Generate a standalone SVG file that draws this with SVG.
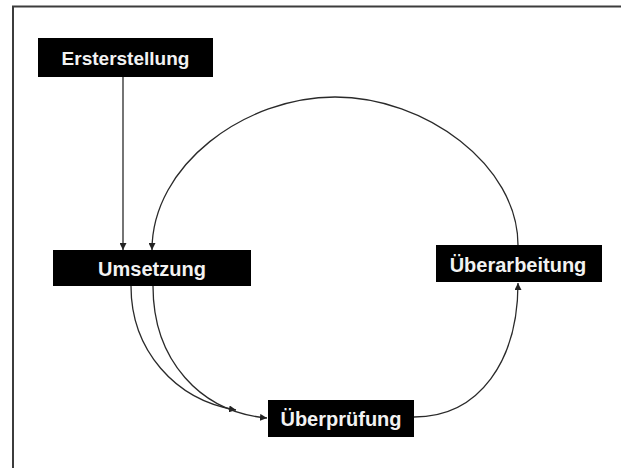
<svg xmlns="http://www.w3.org/2000/svg" width="621" height="468" viewBox="0 0 621 468">
<defs>
<marker id="ah" viewBox="0 0 10 10" refX="10" refY="5" markerWidth="7" markerHeight="7" markerUnits="userSpaceOnUse" orient="auto">
<path d="M0,0 L10,5 L0,10 z" fill="#222"/>
</marker>
<style>
.box{fill:#000}
.lbl{font-family:"Liberation Sans",Arial,sans-serif;font-weight:bold;font-size:20px;fill:#f2f2f2;text-anchor:middle}
.con{fill:none;stroke:#2a2a2a;stroke-width:1.3;marker-end:url(#ah)}
</style>
</defs>
<rect width="621" height="468" fill="#fff"/>
<path d="M13,468 V6.5 H621" fill="none" stroke="#3c3c3c" stroke-width="2"/>
<g id="connectors">
<path class="con" d="M123,77 V250"/>
<path class="con" d="M518,245 C518,165 425,97 335,97 C245,97 152,165 152,250"/>
<path class="con" d="M131,286 C131,350 175,400 236,410"/>
<path class="con" d="M153,286 C153,360 200,412 267,418"/>
<path class="con" d="M414,417 C480,417 518,360 518,283"/>
</g>
<g id="ersterstellung">
<rect class="box" x="38" y="38" width="175" height="39"/>
<text class="lbl" x="125.5" y="65" style="font-size:19px">Ersterstellung</text>
</g>
<g id="umsetzung">
<rect class="box" x="53" y="250" width="198" height="36"/>
<text class="lbl" x="152" y="276">Umsetzung</text>
</g>
<g id="ueberarbeitung">
<rect class="box" x="436" y="245" width="166" height="37"/>
<text class="lbl" x="518" y="272">Überarbeitung</text>
</g>
<g id="ueberpruefung">
<rect class="box" x="268" y="400" width="146" height="37"/>
<text class="lbl" x="341" y="426">Überprüfung</text>
</g>
</svg>
